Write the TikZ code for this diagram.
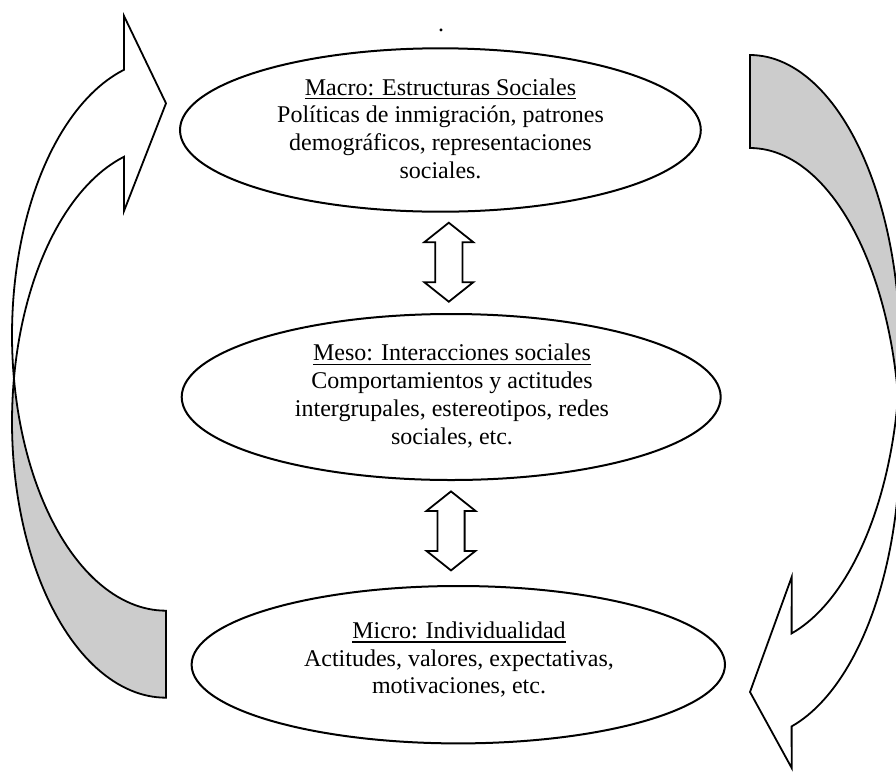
\documentclass[tikz,border=0pt]{standalone}
\usepackage{fontspec}
\setmainfont{Liberation Serif}
\usetikzlibrary{shapes.geometric}
\definecolor{foldgray}{RGB}{204,204,204}
% underlined heading with a thin rule just below the baseline
\newcommand\headline[1]{\setbox0\hbox{#1}\rlap{\rule[-2.2pt]{\wd0}{0.7pt}}\box0}
\tikzset{
  level/.style={ellipse, draw=black, line width=1pt, inner sep=0pt, fill=white},
  body/.style={anchor=base, inner sep=0pt, font=\fontsize{12pt}{13.9pt}\selectfont},
  blockline/.style={draw=black, line width=0.9pt, line join=miter},
  updown/.pic={
    \draw[blockline, fill=white] (0,-39.5) -- (24.5,-20) -- (13.6,-20) -- (13.6,20)
      -- (24.5,20) -- (0,39.5) -- (-24.5,20) -- (-13.6,20) -- (-13.6,-20)
      -- (-24.5,-20) -- cycle;
  }
}
\begin{document}
\begin{tikzpicture}[x=0.5pt, y=-0.5pt]
\useasboundingbox (0,0) rectangle (896,778);
\clip (0,0) rectangle (896,778);

% the three levels
\node[level, minimum width=260.4pt, minimum height=81.7pt] (macro) at (440.4,130) {};
\node[level, minimum width=269.5pt, minimum height=83pt] (meso) at (451.2,397) {};
\node[level, minimum width=266.7pt, minimum height=78.7pt] (micro) at (458.3,664.7) {};

\node[body] (macroT) at (440.5,95) {\begin{tabular}[t]{@{}c@{}}
  \headline{Macro: Estructuras Sociales}\\
  Políticas de inmigración, patrones\\
  demográficos, representaciones\\
  sociales.\end{tabular}};
\node[body] (mesoT) at (452,360.7) {\begin{tabular}[t]{@{}c@{}}
  \headline{Meso: Interacciones sociales}\\
  Comportamientos y actitudes\\
  intergrupales, estereotipos, redes\\
  sociales, etc.\end{tabular}};
\node[body] (microT) at (459,638.3) {\begin{tabular}[t]{@{}c@{}}
  \headline{Micro: Individualidad}\\
  Actitudes, valores, expectativas,\\
  motivaciones, etc.\end{tabular}};

\node[body] (dot) at (441,31) {.};

% two-way block arrows between the levels
\pic at (448.8,262.2) {updown};
\pic at (451,530.9) {updown};

% curved arrow on the left, from micro up to macro
\fill[foldgray] plot[domain=170.9:90, samples=60, variable=\t] ({166+154*cos(\t)},{335+275.7*sin(\t)})
  -- plot[domain=90:189.1, samples=60, variable=\t] ({166+154*cos(\t)},{422+275.7*sin(\t)}) -- cycle;
\draw[blockline] plot[domain=90:254.2, samples=100, variable=\t] ({166+154*cos(\t)},{335+275.7*sin(\t)})
  -- (124,16) -- (166,103.3) -- (124,211)
  -- plot[domain=254.2:90, samples=100, variable=\t] ({166+154*cos(\t)},{422+275.7*sin(\t)}) -- cycle;

% curved arrow on the right, from macro down to micro
\fill[foldgray] plot[domain=-90:9.07, samples=60, variable=\t] ({750+150*cos(\t)},{350+295*sin(\t)})
  -- plot[domain=-9.07:-90, samples=60, variable=\t] ({750+150*cos(\t)},{443+295*sin(\t)}) -- cycle;
\draw[blockline] plot[domain=-90:73.9, samples=100, variable=\t] ({750+150*cos(\t)},{350+295*sin(\t)})
  -- (791.7,577) -- (750,692) -- (791.7,768)
  -- plot[domain=73.9:-90, samples=100, variable=\t] ({750+150*cos(\t)},{443+295*sin(\t)}) -- cycle;
\end{tikzpicture}
\end{document}
